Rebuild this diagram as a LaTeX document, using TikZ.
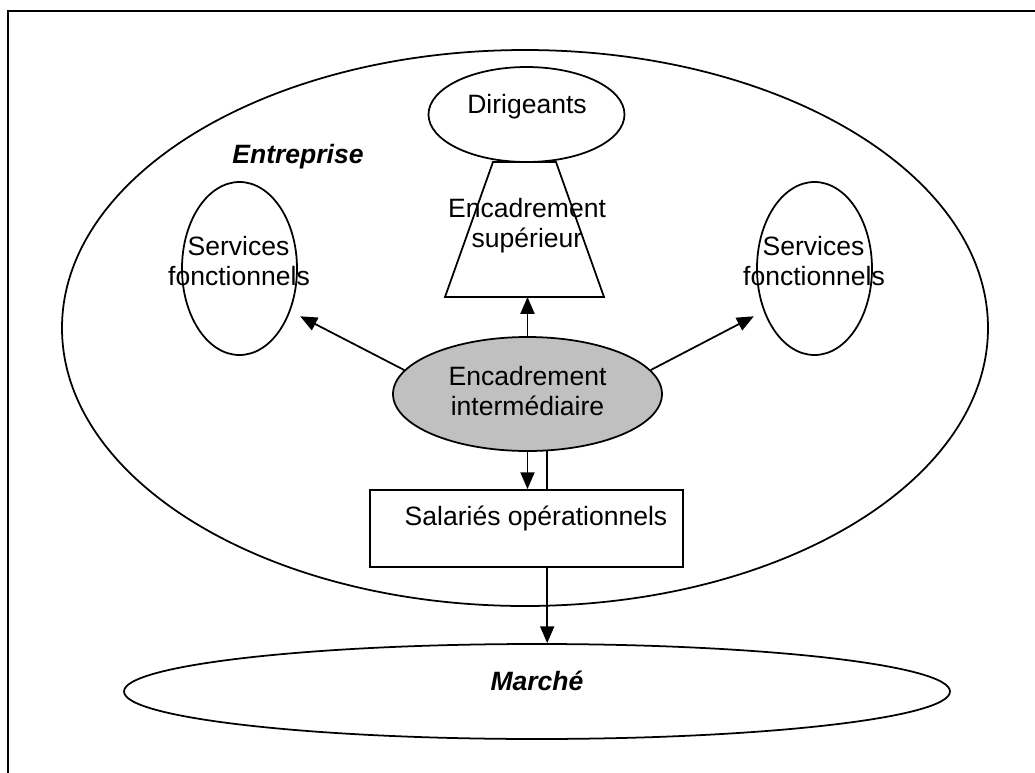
\documentclass[tikz,border=0pt]{standalone}
\usepackage{fontspec}
\setmainfont{Liberation Sans}
\usepackage{xcolor}
\usetikzlibrary{arrows.meta,shapes.geometric}

\definecolor{argent}{RGB}{192,192,192}

\begin{document}
\begin{tikzpicture}[line width=0.5pt]
		\tikzset{> = {Triangle[length=4.8pt,width=4pt]}, oval/.style = {shape=ellipse, draw, fill=white, inner sep=0pt}, boite/.style = {shape=rectangle, draw, fill=white, inner sep=0pt}, txt/.style = {anchor=base, inner sep=0pt, font=\fontsize{7.55}{9}\selectfont}, titre/.style = {txt, font=\fontsize{7.55}{9}\selectfont\bfseries\itshape}}
		\useasboundingbox (0,0) rectangle (10.35,-7.73);
		\clip (0,0) rectangle (10.35,-7.73);
		\draw (0.08,-0.11) rectangle (10.6,-8);
		%shapes
		\node[oval, minimum width=9.26cm, minimum height=5.56cm] (entreprise) at (5.25,-3.28) {};
		\node[oval, minimum width=1.96cm, minimum height=0.95cm] (dirigeants) at (5.265,-1.145) {};
		\coordinate (suphg) at (4.93,-1.62);
		\coordinate (suphd) at (5.56,-1.62);
		\coordinate (supbd) at (6.04,-2.97);
		\coordinate (supbg) at (4.45,-2.97);
		\coordinate (supbas) at (5.275,-2.97);
		\draw (suphg) -- (suphd) -- (supbd) -- (supbg) -- cycle;
		\node[oval, minimum width=1.15cm, minimum height=1.73cm] (servg) at (2.395,-2.685) {};
		\node[oval, minimum width=1.15cm, minimum height=1.73cm] (servd) at (8.145,-2.685) {};
		\node[oval, fill=argent, minimum width=2.69cm, minimum height=1.14cm] (interm) at (5.275,-3.94) {};
		\node[boite, minimum width=3.13cm, minimum height=0.77cm] (sal) at (5.265,-5.285) {};
		\node[oval, minimum width=8.26cm, minimum height=0.95cm] (marche) at (5.37,-6.915) {};
		%texts
		\node[txt] (tdir) at (5.27,-1.13) {Dirigeants};
		\node[titre] (tent) at (2.98,-1.63) {Entreprise};
		\node[txt] (tservg1) at (2.385,-2.55) {Services};
		\node[txt] (tservg2) at (2.39,-2.85) {fonctionnels};
		\node[txt] (tservd1) at (8.135,-2.55) {Services};
		\node[txt] (tservd2) at (8.14,-2.85) {fonctionnels};
		\node[txt] (tsup1) at (5.27,-2.17) {Encadrement};
		\node[txt] (tsup2) at (5.27,-2.47) {supérieur};
		\node[txt] (tint1) at (5.275,-3.85) {Encadrement};
		\node[txt] (tint2) at (5.275,-4.15) {intermédiaire};
		\node[txt] (tsal) at (5.36,-5.25) {Salariés opérationnels};
		\node[titre] (tmar) at (5.37,-6.90) {Marché};
		%edges
		\draw[->, shorten >=0.11cm] (interm.169) -- (servg.-40);
		\draw[->, shorten >=0.11cm] (interm.11) -- (servd.-140);
		\draw[->] (interm.north) -- (supbas);
		\draw[->] (interm.south) -- (interm.south |- sal.north);
		\draw (interm.-71) -- (interm.-71 |- sal.north);
		\draw[->] (interm.-71 |- sal.south) -- (interm.-71 |- marche.north);
\end{tikzpicture}
\end{document}
